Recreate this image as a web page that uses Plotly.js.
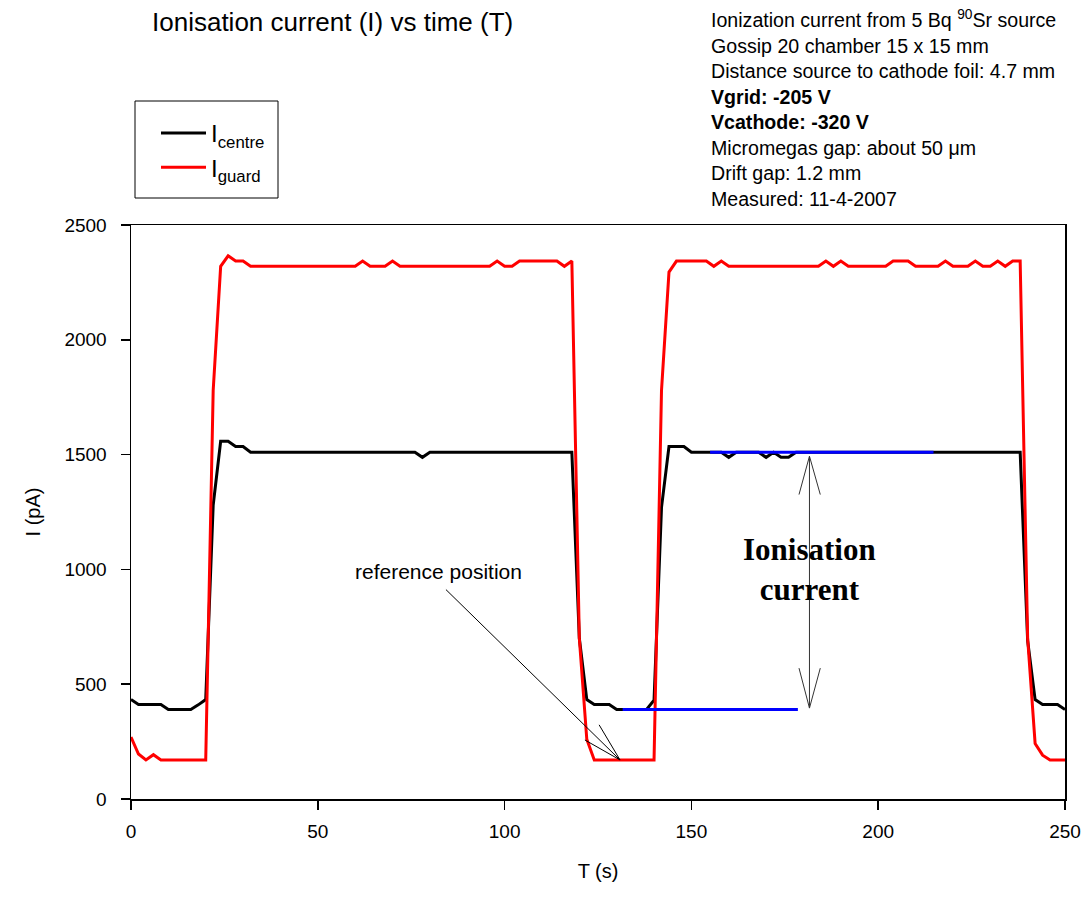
<!DOCTYPE html>
<html>
<head>
<meta charset="utf-8">
<script src="https://cdn.plot.ly/plotly-3.0.1.min.js"></script>
<style>html,body{margin:0;padding:0;background:#fff;}#chart{width:1090px;height:897px;}</style>
</head>
<body>
<div id="chart"></div>
<script>
// Time axis (s)
const timeS = [];
for (let t = 0; t <= 250; t += 2) timeS.push(t);

// I_centre (pA), one value per time step
const iCentre = [
  433, 412, 412, 412, 412, 390, 390, 390, 390, 410,   // 0-18
  433, 1280, 1558, 1558, 1535, 1535, 1510, 1510, 1510, 1510, // 20-38
  1510, 1510, 1510, 1510, 1510, 1510, 1510, 1510, 1510, 1510, // 40-58
  1510, 1510, 1510, 1510, 1510, 1510, 1510, 1510, 1510, 1488, // 60-78
  1510, 1510, 1510, 1510, 1510, 1510, 1510, 1510, 1510, 1510, // 80-98
  1510, 1510, 1510, 1510, 1510, 1510, 1510, 1510, 1510, 1510, // 100-118
  700, 433, 412, 412, 412, 390, 390, 390, 390, 390,           // 120-138
  430, 1270, 1535, 1535, 1535, 1510, 1510, 1510, 1510, 1510,  // 140-158
  1488, 1510, 1510, 1510, 1510, 1488, 1510, 1488, 1488, 1510, // 160-178
  1510, 1510, 1510, 1510, 1510, 1510, 1510, 1510, 1510, 1510, // 180-198
  1510, 1510, 1510, 1510, 1510, 1510, 1510, 1510, 1510, 1510, // 200-218
  1510, 1510, 1510, 1510, 1510, 1510, 1510, 1510, 1510, 1510, // 220-238
  690, 433, 412, 412, 412, 390                                // 240-250
];

// I_guard (pA)
const iGuard = [
  270, 196, 170, 193, 170, 170, 170, 170, 170, 170,           // 0-18
  170, 1780, 2320, 2366, 2343, 2343, 2320, 2320, 2320, 2320,  // 20-38
  2320, 2320, 2320, 2320, 2320, 2320, 2320, 2320, 2320, 2320, // 40-58
  2320, 2343, 2320, 2320, 2320, 2343, 2320, 2320, 2320, 2320, // 60-78
  2320, 2320, 2320, 2320, 2320, 2320, 2320, 2320, 2320, 2343, // 80-98
  2320, 2320, 2343, 2343, 2343, 2343, 2343, 2343, 2320, 2343, // 100-118
  700, 260, 170, 170, 170, 170, 170, 170, 170, 170,           // 120-138
  170, 1780, 2295, 2343, 2343, 2343, 2343, 2343, 2320, 2343,  // 140-158
  2320, 2320, 2320, 2320, 2320, 2320, 2320, 2320, 2320, 2320, // 160-178
  2320, 2320, 2320, 2343, 2320, 2343, 2320, 2320, 2320, 2320, // 180-198
  2320, 2320, 2343, 2343, 2343, 2320, 2320, 2320, 2320, 2343, // 200-218
  2320, 2320, 2320, 2343, 2320, 2320, 2343, 2320, 2343, 2343, // 220-238
  700, 242, 191, 170, 170, 170                                // 240-250
];

// Reference level lines (blue)
const topLevelT = [155, 214.8];
const topLevelI = [1510, 1510];
const baseLevelT = [131.6, 178.5];
const baseLevelI = [390, 390];

const xTicks = [0, 50, 100, 150, 200, 250];
const yTicks = [0, 500, 1000, 1500, 2000, 2500];

const sans = 'Liberation Sans, Arial, sans-serif';

const traces = [
  {x: timeS, y: iCentre, type: 'scatter', mode: 'lines', name: 'I<sub>centre</sub>',
   line: {color: '#000000', width: 3}},
  {x: timeS, y: iGuard, type: 'scatter', mode: 'lines', name: 'I<sub>guard</sub>',
   line: {color: '#ff0000', width: 3}},
  {x: topLevelT, y: topLevelI, type: 'scatter', mode: 'lines', showlegend: false,
   line: {color: '#0000ff', width: 3}},
  {x: baseLevelT, y: baseLevelI, type: 'scatter', mode: 'lines', showlegend: false,
   line: {color: '#0000ff', width: 3}}
];

function seg(x0, y0, x1, y1, col) {
  return {type: 'line', xref: 'x', yref: 'y', x0: x0, y0: y0, x1: x1, y1: y1,
          line: {color: col || '#000000', width: 1}};
}
const arrowCol = '#333333';
const PW = 934, PH = 574, ML = 131, MT = 225;
function px2paperX(p) { return (p - ML) / PW; }
function px2paperY(p) { return 1 + (MT - p) / PH; }
const shapes = [
  // double arrow for ionisation current
  seg(181.6, 396, 181.6, 1493, arrowCol),
  seg(178.8, 1326, 181.6, 1493, arrowCol), seg(184.5, 1326, 181.6, 1493, arrowCol),
  seg(178.8, 570, 181.6, 396, arrowCol), seg(184.5, 570, 181.6, 396, arrowCol),
  // reference position pointer
  seg(84.3, 912, 130.9, 170), seg(125.3, 323, 130.9, 170), seg(121.5, 257, 130.9, 170),
  // legend frame
  {type: 'rect', xref: 'paper', yref: 'paper', x0: px2paperX(135), x1: px2paperX(278),
   y0: px2paperY(198), y1: px2paperY(101), line: {color: '#000', width: 1}, fillcolor: 'rgba(0,0,0,0)'}
];

const layout = {
  width: 1090, height: 897,
  paper_bgcolor: '#ffffff', plot_bgcolor: '#ffffff',
  margin: {l: ML, r: 25, t: MT, b: 98},
  font: {family: sans, color: '#000000', size: 19},
  title: {text: 'Ionisation current (I) vs time (T)', x: 152 / 1090, xanchor: 'left', xref: 'container',
          y: 1 - 22 / 897, yanchor: 'middle', yref: 'container', font: {size: 26, family: sans, color: '#000'}},
  xaxis: {range: [0, 250], tickvals: xTicks, ticktext: xTicks.map(String), ticks: 'outside', ticklen: 9, tickwidth: 1.5,
          tickcolor: '#000', showline: true, linecolor: '#000', linewidth: 1.5, mirror: true, showgrid: false,
          zeroline: false, tickfont: {size: 19}, ticklabelstandoff: 6,
          title: {text: 'T (s)', font: {size: 20}, standoff: 22}},
  yaxis: {range: [0, 2500], tickvals: yTicks, ticktext: yTicks.map(String), ticks: 'outside', ticklen: 9, tickwidth: 1.5,
          tickcolor: '#000', showline: true, linecolor: '#000', linewidth: 1.5, mirror: true, showgrid: false,
          zeroline: false, tickfont: {size: 19}, ticklabelstandoff: 10,
          title: {text: 'I (pA)', font: {size: 20}, standoff: 18}},
  showlegend: true,
  legend: {x: px2paperX(156), xanchor: 'left', y: px2paperY(111), yanchor: 'top',
           borderwidth: 0, bgcolor: 'rgba(0,0,0,0)', font: {size: 24, family: sans},
           itemwidth: 45, tracegroupgap: 0},
  shapes: shapes,
  annotations: [
    {xref: 'paper', yref: 'paper', x: px2paperX(709), y: px2paperY(5), xanchor: 'left', yanchor: 'top',
     align: 'left', showarrow: false, font: {size: 19.6, family: sans},
     text: 'Ionization current from 5 Bq <sup>90</sup>Sr source<br>Gossip 20 chamber 15 x 15 mm<br>' +
           'Distance source to cathode foil: 4.7 mm<br><b>Vgrid: -205 V</b><br><b>Vcathode: -320 V</b><br>' +
           'Micromegas gap: about 50 μm<br>Drift gap: 1.2 mm<br>Measured: 11-4-2007'},
    {xref: 'x', yref: 'y', x: 82.3, y: 990, showarrow: false, xanchor: 'center', yanchor: 'middle',
     text: 'reference position', font: {size: 21, family: sans}},
    {xref: 'x', yref: 'y', x: 181.6, y: 1000, showarrow: false, xanchor: 'center', yanchor: 'middle',
     text: '<b>Ionisation</b><br><b>current</b>', font: {size: 31, family: 'Liberation Serif, Times New Roman, serif'}}
  ]
};

Plotly.newPlot('chart', traces, layout, {displayModeBar: false, staticPlot: true});
</script>
</body>
</html>
